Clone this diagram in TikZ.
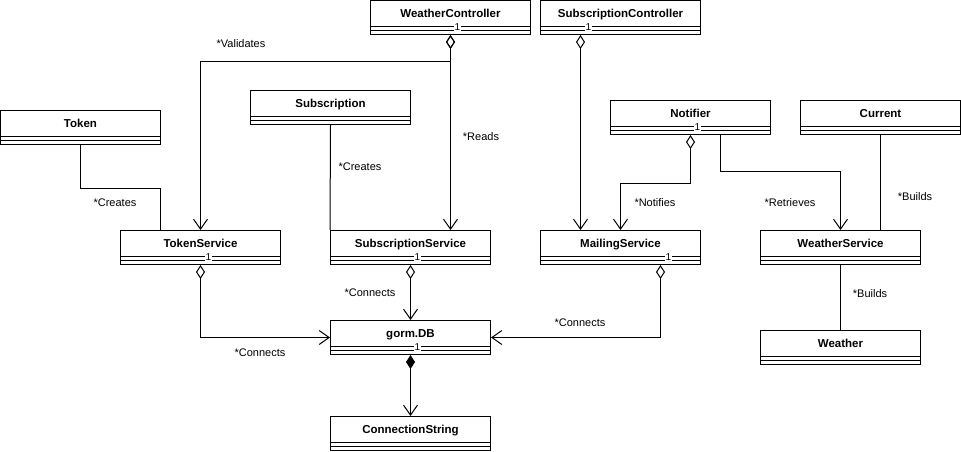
\documentclass[tikz,border=0pt]{standalone}
\usepackage{fontspec}
\setmainfont{Liberation Sans}
\usetikzlibrary{arrows.meta}

\begin{document}
\begin{tikzpicture} [x = 1pt, y = -1pt, line width = 1pt,
  umlclass/.style = {draw, anchor = north west, minimum width = 160pt, minimum height = 34pt, inner sep = 0pt,
    font = \fontsize{11.5}{13}\selectfont\bfseries, text height = 9pt, text depth = 9pt,
    path picture = {\draw ([yshift = 8pt]path picture bounding box.south west) -- ([yshift = 8pt]path picture bounding box.south east);
      \draw ([yshift = 4pt]path picture bounding box.south west) -- ([yshift = 4pt]path picture bounding box.south east);}},
  mult/.style = {font = \fontsize{10}{11}\selectfont, fill = white, inner sep = 0.8pt},
  rolelabel/.style = {font = \fontsize{11}{13}\selectfont, inner sep = 0pt},
  aggr/.style = {{Diamond[open, length = 14pt, width = 9pt]}-{Straight Barb[length = 10pt, width = 14pt]}},
  compo/.style = {{Diamond[length = 14pt, width = 9pt]}-{Straight Barb[length = 10pt, width = 14pt]}}]
\useasboundingbox (0, 0) rectangle (961, 451);

\node[umlclass] (wc) at (370, 0) {WeatherController};
\node[umlclass] (sc) at (540, 0) {SubscriptionController};
\node[umlclass] (tok) at (0, 110) {Token};
\node[umlclass] (sub) at (250, 90) {Subscription};
\node[umlclass] (nt) at (610, 100) {Notifier};
\node[umlclass] (cur) at (800, 100) {Current};
\node[umlclass] (ts) at (120, 230) {TokenService};
\node[umlclass] (ss) at (330, 230) {SubscriptionService};
\node[umlclass] (ms) at (540, 230) {MailingService};
\node[umlclass] (ws) at (760, 230) {WeatherService};
\node[umlclass] (db) at (330, 320) {gorm.DB};
\node[umlclass] (wea) at (760, 330) {Weather};
\node[umlclass] (cs) at (330, 416) {ConnectionString};

\draw[aggr] (wc.south) -- ++(0, 26) -| (ts.north);
\draw[aggr] (wc.south) -- (wc.south |- ss.north);
\draw[aggr] ([xshift = -40pt]sc.south) -- ([xshift = -40pt]sc.south |- ms.north);
\draw (tok.south) -- ++(0, 43) -| ([xshift = -40pt]ts.north);
\draw (sub.south) -- (ss.north west);
\draw[aggr] (ss.south) -- (db.north);
\draw[compo] (db.south) -- (cs.north);
\draw[aggr] (ts.south) |- (db.west);
\draw[aggr] ([xshift = 40pt]ms.south) |- (db.east);
\draw[aggr] (nt.south) -- ++(0, 48) -| (ms.north);
\draw[-{Straight Barb[length = 10pt, width = 14pt]}] ([xshift = 30pt]nt.south) -- ++(0, 36) -| (ws.north);
\draw (cur.south) -- (cur.south |- ws.north);
\draw (ws.south) -- (wea.north);

\node[mult] (wc1) at ([shift = {(7, -8)}]wc.south) {1};
\node[mult] (sc1) at ([shift = {(-32, -8)}]sc.south) {1};
\node[mult] (ts1) at ([shift = {(8, -8)}]ts.south) {1};
\node[mult] (ss1) at ([shift = {(7, -8)}]ss.south) {1};
\node[mult] (db1) at ([shift = {(7, -8)}]db.south) {1};
\node[mult] (ms1) at ([shift = {(48, -8)}]ms.south) {1};
\node[mult] (nt1) at ([shift = {(7, -8)}]nt.south) {1};

\node[rolelabel] (lval) at (241, 44) {*Validates};
\node[rolelabel] (lread) at (481, 137) {*Reads};
\node[rolelabel] (lcrt) at (115, 203) {*Creates};
\node[rolelabel] (lcrs) at (360, 167) {*Creates};
\node[rolelabel] (lnot) at (655, 203) {*Notifies};
\node[rolelabel] (lret) at (790, 203) {*Retrieves};
\node[rolelabel] (lbc) at (915, 197) {*Builds};
\node[rolelabel] (lbw) at (870, 294) {*Builds};
\node[rolelabel] (lcs) at (370, 293) {*Connects};
\node[rolelabel] (lcm) at (580, 323) {*Connects};
\node[rolelabel] (lct) at (260, 353) {*Connects};
\end{tikzpicture}
\end{document}
